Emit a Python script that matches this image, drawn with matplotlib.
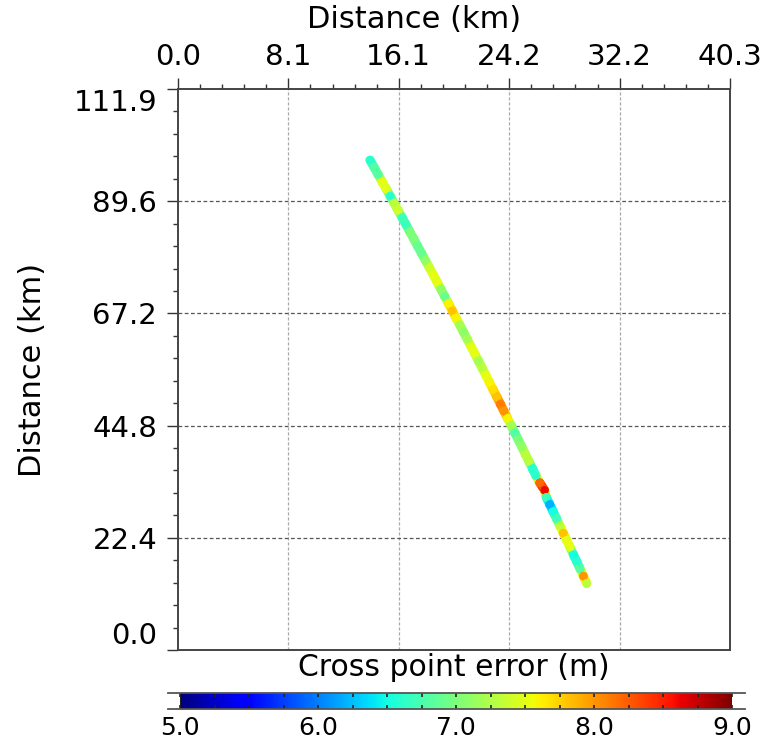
import matplotlib
matplotlib.use("Agg")
import numpy as np
import matplotlib.pyplot as plt
from matplotlib.ticker import MultipleLocator, FixedLocator, FixedFormatter
from matplotlib.lines import Line2D
from matplotlib.collections import LineCollection

# ---- data ----
track_x_km = [14.02, 14.32, 14.61, 14.90, 15.20, 15.49, 15.78, 16.07, 16.36, 16.65,
              16.93, 17.22, 17.50, 17.79, 18.07, 18.36, 18.64, 18.92, 19.20, 19.47,
              19.75, 20.03, 20.30, 20.58, 20.85, 21.13, 21.40, 21.67, 21.94, 22.21,
              22.48, 22.74, 23.01, 23.28, 23.54, 23.80, 24.06, 24.33, 24.59, 24.85,
              25.11, 25.36, 25.62, 25.88, 26.13, 26.42, 26.76, 26.89, 27.14, 27.39,
              27.64, 27.89, 28.13, 28.38, 28.63, 28.87, 29.12, 29.36, 29.60, 29.84]
track_y_km = [97.74, 96.31, 94.88, 93.45, 92.02, 90.58, 89.15, 87.72, 86.29, 84.86,
              83.43, 82.00, 80.57, 79.13, 77.70, 76.27, 74.84, 73.41, 71.98, 70.55,
              69.12, 67.68, 66.25, 64.82, 63.39, 61.96, 60.53, 59.10, 57.67, 56.24,
              54.80, 53.37, 51.94, 50.51, 49.08, 47.65, 46.22, 44.79, 43.35, 41.92,
              40.49, 39.06, 37.63, 36.20, 34.77, 33.34, 31.90, 30.47, 29.04, 27.61,
              26.18, 24.75, 23.32, 21.89, 20.46, 19.02, 17.59, 16.16, 14.73, 13.30]
cross_error_m = [6.6, 6.8, 6.8, 7.5, 7.5, 6.6, 7.3, 7.4, 6.7, 6.7,
                 7.0, 7.0, 6.9, 6.9, 7.1, 7.4, 7.5, 7.5, 7.1, 6.9,
                 7.6, 7.8, 7.6, 7.2, 7.1, 7.2, 7.5, 7.5, 7.2, 7.3,
                 7.5, 7.6, 7.7, 7.8, 8.1, 8.0, 7.6, 7.2, 6.8, 7.0,
                 7.1, 7.3, 7.3, 6.6, 6.6, 8.2, 8.6, 6.7, 6.2, 6.5,
                 6.7, 7.3, 7.8, 7.5, 7.5, 6.5, 6.6, 6.8, 8.0, 7.3]

x_max_km = 40.3
y_max_km = 111.95
x_tick_labels = ["0.0", "8.1", "16.1", "24.2", "32.2", "40.3"]
y_tick_labels = ["0.0", "22.4", "44.8", "67.2", "89.6", "111.9"]
cbar_ticks = [5.0, 6.0, 7.0, 8.0, 9.0]
cbar_min, cbar_max = 5.0, 9.0

W, H = 769, 746
fig = plt.figure(figsize=(W / 100, H / 100), dpi=100)
fig.patch.set_facecolor("white")

def fx(px):
    return px / W

def fy(py):
    return 1 - py / H

ax = fig.add_axes([fx(178), fy(650), fx(730) - fx(178), fy(89) - fy(650)])
ax.set_xlim(0, x_max_km)
ax.set_ylim(0, y_max_km)

cmap = plt.get_cmap("jet")
norm = plt.Normalize(cbar_min, cbar_max)

# continuous coloured band along the track
pts = np.column_stack([track_x_km, track_y_km])
segs = np.stack([pts[:-1], pts[1:]], axis=1)
seg_vals = (np.array(cross_error_m[:-1]) + np.array(cross_error_m[1:])) / 2
lc = LineCollection(segs, cmap=cmap, norm=norm, linewidths=6.6,
                    capstyle="round", zorder=2.5)
lc.set_array(seg_vals)
ax.add_collection(lc)

sc = ax.scatter(track_x_km, track_y_km, c=cross_error_m, cmap=cmap, norm=norm,
                s=40, edgecolors="none", zorder=3)

# ticks
xt = [x_max_km * i / 5 for i in range(6)]
yt = [y_max_km * i / 5 for i in range(6)]
ax.xaxis.set_major_locator(FixedLocator(xt))
ax.xaxis.set_major_formatter(FixedFormatter(x_tick_labels))
ax.yaxis.set_major_locator(FixedLocator(yt))
ax.yaxis.set_major_formatter(FixedFormatter(y_tick_labels))
ax.xaxis.set_minor_locator(MultipleLocator(x_max_km / 25))
ax.yaxis.set_minor_locator(MultipleLocator(y_max_km / 25))
ax.tick_params(axis="x", which="both", top=True, bottom=False,
               labeltop=True, labelbottom=False)
ax.tick_params(axis="y", which="both", left=True, right=False)
ax.tick_params(which="major", direction="out", length=8, width=1.0,
               color="#333333", labelsize=21)
ax.tick_params(axis="x", which="major", pad=5)
ax.tick_params(axis="y", which="major", pad=7)
ax.tick_params(which="minor", direction="out", length=3.6, width=1.0, color="#333333")

ytk = ax.yaxis.get_major_ticks()
ytk[0].label1.set_verticalalignment("bottom")
ytk[-1].label1.set_verticalalignment("top")

for s in ax.spines.values():
    s.set_linewidth(1.4)
    s.set_color("#444444")

# grid
for v in xt[1:-1]:
    ax.axvline(v, color="#aaaaaa", lw=0.9, ls=(0, (2.5, 1.5)), zorder=1)
for v in yt[1:-1]:
    ax.axhline(v, color="#555555", lw=0.9, ls=(0, (3, 2)), zorder=1)

fig.text(fx(414), fy(20), "Distance (km)", ha="center", va="center", fontsize=22)
fig.text(fx(33), fy(370), "Distance (km)", ha="center", va="center",
         fontsize=22, rotation=90)

# colorbar
cax = fig.add_axes([fx(180), fy(709), fx(732) - fx(180), fy(693) - fy(709)])
cb = fig.colorbar(sc, cax=cax, orientation="horizontal")
cb.outline.set_visible(False)
cb.set_ticks(cbar_ticks)
cb.set_ticklabels(["%.1f" % t for t in cbar_ticks])
cax.xaxis.set_minor_locator(MultipleLocator(0.25))
cax.tick_params(which="both", direction="in", top=True, bottom=True,
                length=3, width=1.2, color="#222222")
cax.tick_params(which="major", labelsize=18, pad=5)
cax.axvline(cbar_min, color="#222222", lw=1.5)
cax.axvline(cbar_max, color="#222222", lw=1.5)
for py in (693, 709):
    fig.add_artist(Line2D([fx(168), fx(745)], [fy(py), fy(py)],
                          color="#555555", lw=1.3))
fig.text(fx(454), fy(667), "Cross point error (m)", ha="center", va="center",
         fontsize=21.5)

fig.savefig("out.png", dpi=100)
